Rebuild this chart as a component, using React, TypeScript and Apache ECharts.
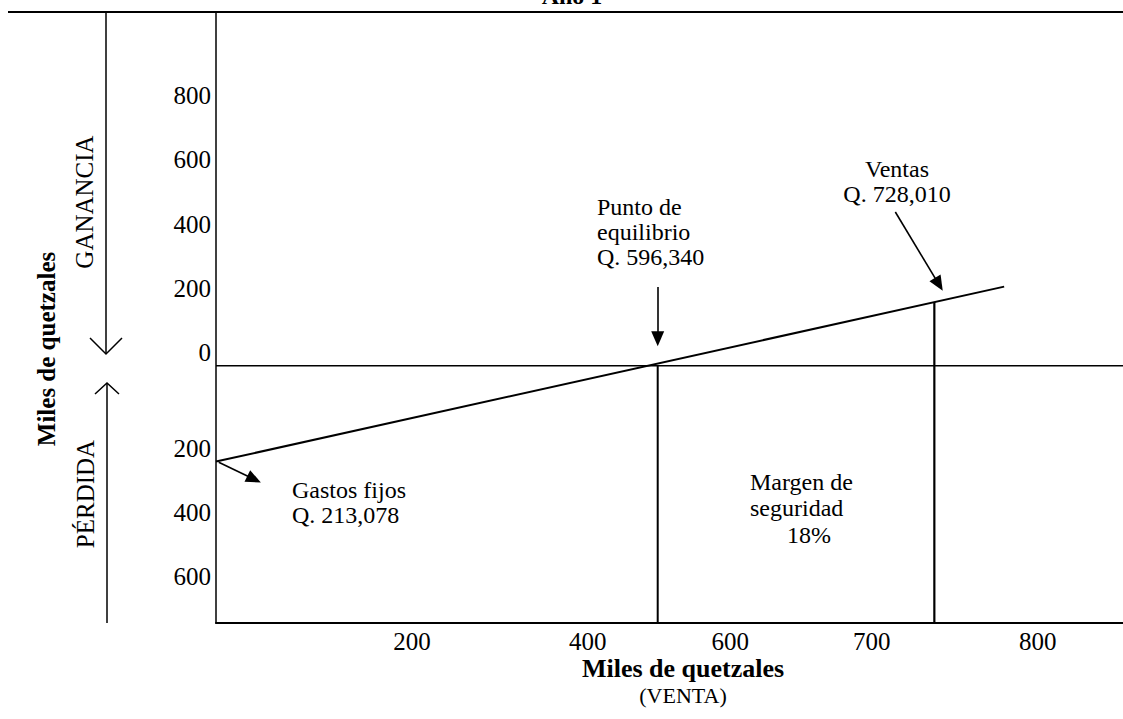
import React, { useEffect, useRef } from "react";
import * as echarts from "echarts";

// ---------- texts ----------
const chartTitle = "Año 1";
const yAxisTitle = "Miles de quetzales";
const xAxisTitle = "Miles de quetzales";
const xAxisSubtitle = "(VENTA)";
const profitSideLabel = "GANANCIA";
const lossSideLabel = "PÉRDIDA";

// ---------- tick labels (miles de quetzales) ----------
const salesTicks = [200, 400, 600, 700, 800];
const resultTicks = [-600, -400, -200, 0, 200, 400, 600, 800];

// ---------- diagram values (schematic units, as drawn) ----------
const resultLineX = [0, 869];
const resultLineY = [-298, 246];
const breakEvenX = 487;
const salesX = 792;
const salesY = 198;
const zeroResult = 0;
const resultFloor = -800;

// annotation arrows: [fromX, fromY, toX, toY]
const arrowFixedCosts = [3, -300, 42, -353];
const arrowBreakEven = [487, 245, 487, 84];
const arrowSales = [749, 478, 797, 253];

// ---------- annotations ----------
const breakEvenText = ["Punto de", "equilibrio", "Q. 596,340"];
const salesText = ["Ventas", "Q. 728,010"];
const fixedCostText = ["Gastos fijos", "Q. 213,078"];
const marginText = ["Margen de", "seguridad"];
const marginPercent = "18%";

// ---------- layout ----------
const SERIF = '"Liberation Serif", "Times New Roman", Times, serif';
const INK = "#000";
const SALES_TICK_AT = [216, 410, 567, 723, 906];

function txt(
  text: string,
  x: number,
  y: number,
  opts: {
    size?: number;
    bold?: boolean;
    align?: string;
    vAlign?: string;
    lineHeight?: number;
    rotation?: number;
  } = {}
) {
  return {
    type: "text",
    x,
    y,
    rotation: opts.rotation ?? 0,
    silent: true,
    style: {
      text,
      fill: INK,
      fontFamily: SERIF,
      fontSize: opts.size ?? 24,
      fontWeight: opts.bold ? "bold" : "normal",
      align: opts.align ?? "left",
      verticalAlign: opts.vAlign ?? "top",
      lineHeight: opts.lineHeight,
    },
  };
}

function buildOption() {
  const tickLabelOf = new Map<number, string>(
    SALES_TICK_AT.map((p, i) => [p, String(salesTicks[i])])
  );
  const lineStyle = (width: number) => ({ color: INK, width, type: "solid" as const });
  const arrow = (a: number[]) => [
    { coord: [a[0], a[1]] },
    { coord: [a[2], a[3]] },
  ];

  return {
    animation: false,
    backgroundColor: "#fff",
    grid: { left: 216, right: 0, top: 12, bottom: 96, containLabel: false },
    xAxis: {
      type: "value",
      min: 0,
      max: 1000,
      axisLine: { show: true, onZero: false, lineStyle: { color: INK, width: 2 } },
      axisTick: { show: false },
      splitLine: { show: false },
      axisLabel: {
        show: true,
        customValues: SALES_TICK_AT,
        formatter: (v: number) => tickLabelOf.get(v) ?? "",
        color: INK,
        fontFamily: SERIF,
        fontSize: 25,
        margin: 6,
        hideOverlap: false,
      },
    },
    yAxis: {
      type: "value",
      min: resultFloor,
      max: 1100,
      axisLine: { show: true, onZero: false, lineStyle: { color: INK, width: 1.5 } },
      axisTick: { show: false },
      splitLine: { show: false },
      axisLabel: {
        show: true,
        customValues: resultTicks,
        formatter: (v: number) => (v < 0 ? `{lo|${-v}}` : `{hi|${v}}`),
        margin: 5,
        hideOverlap: false,
        rich: {
          hi: { color: INK, fontFamily: SERIF, fontSize: 25, padding: [0, 0, 26, 0] },
          lo: { color: INK, fontFamily: SERIF, fontSize: 25, padding: [36, 0, 0, 0] },
        },
      },
    },
    series: [
      {
        type: "line",
        name: "Resultado",
        data: resultLineX.map((x, i) => [x, resultLineY[i]]),
        symbol: "none",
        silent: true,
        lineStyle: lineStyle(2),
        markLine: {
          silent: true,
          symbol: ["none", "triangle"],
          symbolSize: [13, 15],
          label: { show: false },
          lineStyle: { color: INK, width: 1.6, type: "solid" },
          itemStyle: { color: INK },
          emphasis: { disabled: true },
          data: [arrow(arrowFixedCosts), arrow(arrowBreakEven), arrow(arrowSales)],
        },
      },
      {
        type: "line",
        name: "Cero",
        data: [
          [0, zeroResult],
          [1000, zeroResult],
        ],
        symbol: "none",
        silent: true,
        lineStyle: lineStyle(1.5),
      },
      {
        type: "line",
        name: "Punto de equilibrio",
        data: [
          [breakEvenX, zeroResult],
          [breakEvenX, resultFloor],
        ],
        symbol: "none",
        silent: true,
        lineStyle: lineStyle(2),
      },
      {
        type: "line",
        name: "Ventas",
        data: [
          [salesX, salesY],
          [salesX, resultFloor],
        ],
        symbol: "none",
        silent: true,
        lineStyle: lineStyle(2.2),
      },
    ],
    graphic: [
      // top rule
      { type: "line", silent: true, shape: { x1: 8, y1: 12, x2: 1123, y2: 12 }, style: { stroke: INK, lineWidth: 2 } },
      // GANANCIA arrow (down)
      { type: "line", silent: true, shape: { x1: 106, y1: 12, x2: 106, y2: 354 }, style: { stroke: INK, lineWidth: 1.5 } },
      {
        type: "polyline",
        silent: true,
        shape: { points: [[90, 338], [106, 354], [122, 338]] },
        style: { stroke: INK, lineWidth: 1.5, fill: null },
      },
      // PÉRDIDA arrow (up)
      { type: "line", silent: true, shape: { x1: 107, y1: 383, x2: 107, y2: 623 }, style: { stroke: INK, lineWidth: 1.5 } },
      {
        type: "polyline",
        silent: true,
        shape: { points: [[95, 394], [107, 383], [119, 394]] },
        style: { stroke: INK, lineWidth: 1.5, fill: null },
      },
      txt(chartTitle, 572, 8, { bold: true, align: "center", vAlign: "bottom" }),
      txt(profitSideLabel, 84, 202, { size: 25, align: "center", vAlign: "middle", rotation: Math.PI / 2 }),
      txt(lossSideLabel, 85, 494, { size: 25, align: "center", vAlign: "middle", rotation: Math.PI / 2 }),
      txt(yAxisTitle, 46, 349, { size: 25, bold: true, align: "center", vAlign: "middle", rotation: Math.PI / 2 }),
      txt(xAxisTitle, 683, 668, { size: 26, bold: true, align: "center", vAlign: "middle" }),
      txt(xAxisSubtitle, 683, 695, { size: 22, align: "center", vAlign: "middle" }),
      txt(breakEvenText.join("\n"), 597, 194, { lineHeight: 25 }),
      txt(salesText.join("\n"), 897, 156, { align: "center", lineHeight: 25 }),
      txt(fixedCostText.join("\n"), 292, 477, { lineHeight: 25 }),
      txt(marginText.join("\n"), 750, 469, { lineHeight: 26 }),
      txt(marginPercent, 809, 535, { align: "center", vAlign: "middle" }),
    ],
  };
}

export default function App() {
  const ref = useRef<HTMLDivElement>(null);
  useEffect(() => {
    document.body.style.margin = "0";
    const el = ref.current;
    if (!el) return;
    const chart = echarts.init(el, null, { renderer: "svg" });
    chart.setOption(buildOption() as any);
    return () => chart.dispose();
  }, []);
  return <div ref={ref} style={{ width: 1123, height: 719, background: "#fff" }} />;
}
